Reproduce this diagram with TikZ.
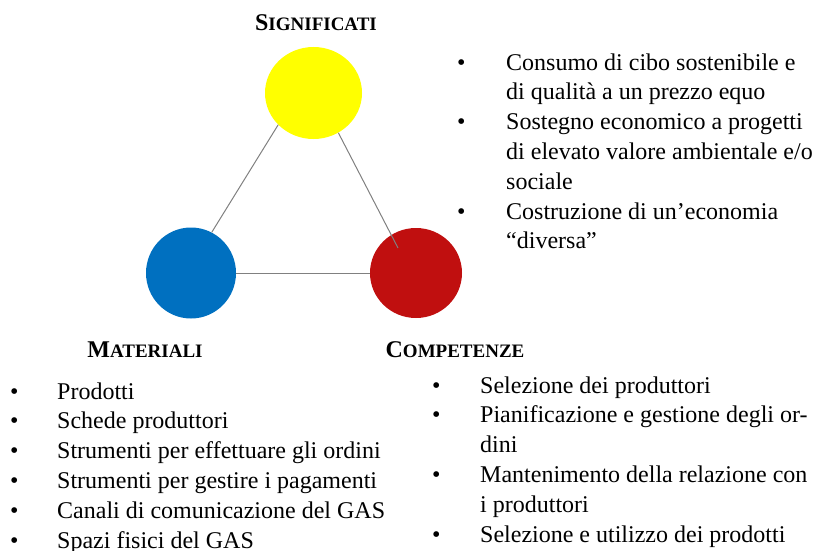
\documentclass[tikz,border=0pt]{standalone}
\usepackage{fontspec}
\setmainfont{Liberation Serif}
\usetikzlibrary{shapes.geometric}
\definecolor{cyellow}{HTML}{FFFF00}
\definecolor{cblue}{HTML}{0070C0}
\definecolor{cred}{HTML}{C00F0F}
\definecolor{cline}{HTML}{808080}
\newcommand{\mysc}[2]{{\bfseries\fontsize{24}{24}\selectfont #1\fontsize{19}{19}\selectfont #2}}
\begin{document}
\begin{tikzpicture}[x=1pt,y=-1pt,
  blob/.style={ellipse, inner sep=0pt},
  conn/.style={draw=cline, line width=1pt},
  head/.style={inner sep=0pt, anchor=base},
  body/.style={font=\fontsize{24}{29.8}\selectfont, align=left, inner sep=0pt, anchor=base west}]
\useasboundingbox (0,0) rectangle (814,551);
\node[blob, fill=cyellow, minimum width=97pt, minimum height=92pt] (Y) at (313.5,93) {};
\node[blob, fill=cblue, minimum width=90pt, minimum height=91pt] (B) at (191,273) {};
\node[blob, fill=cred, minimum width=92pt, minimum height=90pt] (R) at (416,273) {};
\coordinate (rEnd) at (398,248);
\draw[conn] (Y.222) -- (B.63);
\draw[conn] (Y.-58) -- (rEnd);
\draw[conn] (B.east) -- (R.west);
\node[head] (hS) at (316,31) {\mysc{S}{IGNIFICATI}};
\node[head] (hM) at (145,357) {\mysc{M}{ATERIALI}};
\node[head] (hC) at (455,357) {\mysc{C}{OMPETENZE}};
\node[body] (lS) at (457,248.8) {\makebox[49pt][l]{•}Consumo di cibo sostenibile e\\
\hspace*{49pt}di qualità a un prezzo equo\\
\makebox[49pt][l]{•}Sostegno economico a progetti\\
\hspace*{49pt}di elevato valore ambientale e/o\\
\hspace*{49pt}sociale\\
\makebox[49pt][l]{•}Costruzione di un’economia\\
\hspace*{49pt}“diversa”};
\node[body] (lM) at (10,548) {\makebox[47pt][l]{•}Prodotti\\
\makebox[47pt][l]{•}Schede produttori\\
\makebox[47pt][l]{•}Strumenti per effettuare gli ordini\\
\makebox[47pt][l]{•}Strumenti per gestire i pagamenti\\
\makebox[47pt][l]{•}Canali di comunicazione del GAS\\
\makebox[47pt][l]{•}Spazi fisici del GAS};
\node[body] (lC) at (432,542) {\makebox[48pt][l]{•}Selezione dei produttori\\
\makebox[48pt][l]{•}Pianificazione e gestione degli or-\\
\hspace*{48pt}dini\\
\makebox[48pt][l]{•}Mantenimento della relazione con\\
\hspace*{48pt}i produttori\\
\makebox[48pt][l]{•}Selezione e utilizzo dei prodotti};
\end{tikzpicture}
\end{document}
